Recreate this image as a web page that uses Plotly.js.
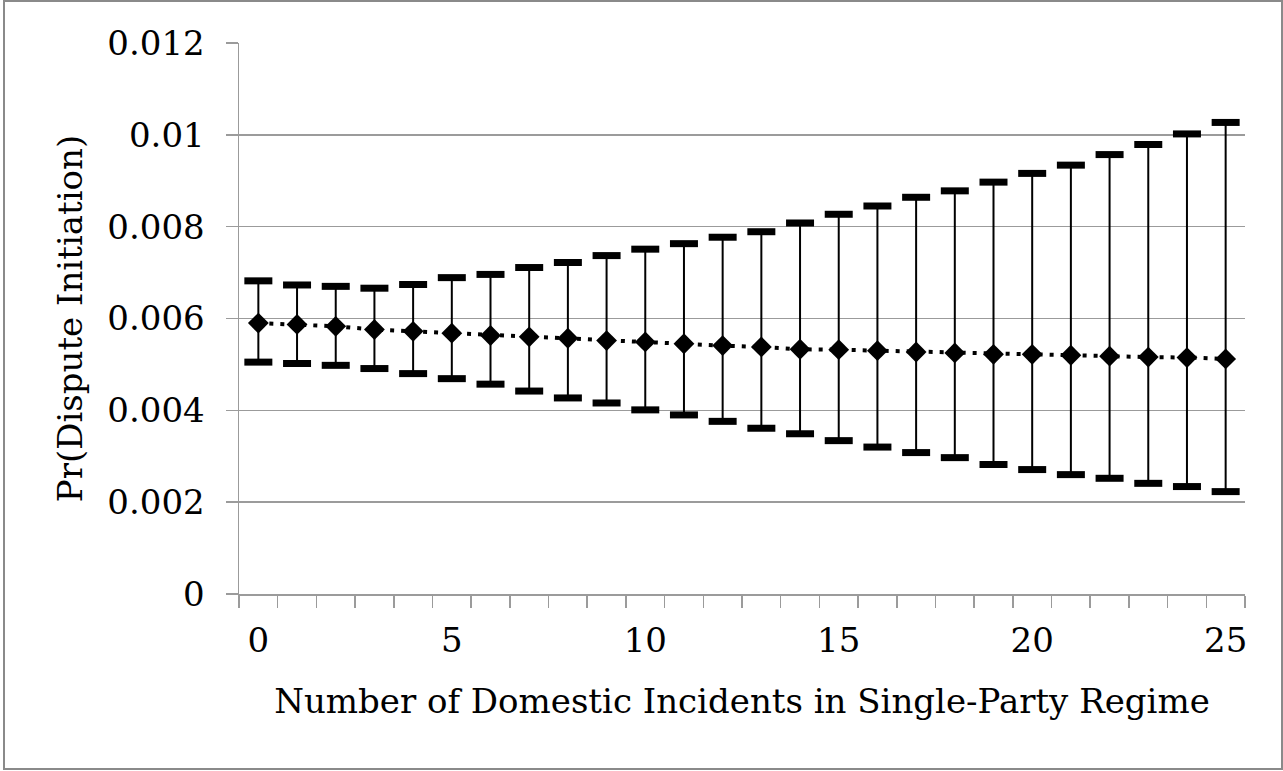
<!DOCTYPE html>
<html>
<head>
<meta charset="utf-8">
<script src="https://cdn.plot.ly/plotly-3.0.1.min.js"></script>
<style>
  html, body { margin: 0; padding: 0; background: #fff; }
  #chart { position: absolute; left: 0; top: 0; width: 1283px; height: 771px; }
  #frame { position: absolute; left: 3px; top: 0; width: 1276px; height: 766px;
           border: 2px solid #8a8a8a; pointer-events: none; }
</style>
</head>
<body>
<div id="chart"></div>
<div id="frame"></div>
<script>
// Number of domestic incidents (category positions)
const incidents = [0,1,2,3,4,5,6,7,8,9,10,11,12,13,14,15,16,17,18,19,20,21,22,23,24,25];

// Predicted probability of dispute initiation
const prMean = [0.00590, 0.00587, 0.00583, 0.00576, 0.00572, 0.00568, 0.00563, 0.00560, 0.00557, 0.00552,
                0.00549, 0.00545, 0.00541, 0.00538, 0.00533, 0.00532, 0.00530, 0.00527, 0.00525, 0.00522,
                0.00522, 0.00520, 0.00518, 0.00516, 0.00515, 0.00512];

// Upper and lower confidence bounds
const prUpper = [0.00682, 0.00673, 0.00670, 0.00666, 0.00674, 0.00689, 0.00696, 0.00711, 0.00722, 0.00737,
                 0.00751, 0.00763, 0.00777, 0.00789, 0.00808, 0.00827, 0.00845, 0.00864, 0.00878, 0.00897,
                 0.00916, 0.00934, 0.00957, 0.00979, 0.01002, 0.01027];
const prLower = [0.00505, 0.00502, 0.00498, 0.00491, 0.00480, 0.00469, 0.00457, 0.00442, 0.00427, 0.00416,
                 0.00401, 0.00390, 0.00376, 0.00361, 0.00349, 0.00334, 0.00320, 0.00308, 0.00297, 0.00282,
                 0.00271, 0.00260, 0.00252, 0.00241, 0.00234, 0.00223];

// Axis labels
const xTickVals = [0, 5, 10, 15, 20, 25];
const xTickText = ['0', '5', '10', '15', '20', '25'];
const yTickVals = [0, 0.002, 0.004, 0.006, 0.008, 0.01, 0.012];
const yTickText = ['0', '0.002', '0.004', '0.006', '0.008', '0.01', '0.012'];

const errPlus = prUpper.map((u, i) => u - prMean[i]);
const errMinus = prMean.map((m, i) => m - prLower[i]);

const FONT = 'DejaVu Serif';
const FS = 34;
const GRID = '#9b9b9b';

// Interval whiskers + point estimates joined by a dotted line
const meanTrace = {
  x: incidents,
  y: prMean,
  type: 'scatter',
  mode: 'lines+markers',
  line: { color: '#000', width: 4, dash: '4px,7px' },
  marker: { symbol: 'diamond', size: 16, color: '#000' },
  error_y: {
    type: 'data', symmetric: false,
    array: errPlus, arrayminus: errMinus,
    color: '#000', thickness: 2, width: 0
  },
  hoverinfo: 'x+y'
};

// Thick caps at each end of the intervals
const capTrace = {
  x: incidents.concat(incidents),
  y: prUpper.concat(prLower),
  type: 'scatter',
  mode: 'markers',
  marker: { symbol: 'line-ew', size: 20, line: { color: '#000', width: 7 } },
  hoverinfo: 'y'
};

const layout = {
  width: 1283,
  height: 771,
  margin: { l: 239, r: 38, t: 43, b: 177, pad: 0 },
  paper_bgcolor: '#fff',
  plot_bgcolor: '#fff',
  showlegend: false,
  font: { family: FONT, size: FS, color: '#000' },
  xaxis: {
    range: [-0.5, 25.5],
    tickmode: 'array',
    tickvals: xTickVals,
    ticktext: xTickText,
    ticks: '',
    ticklabelstandoff: 16,
    showgrid: false,
    zeroline: false,
    showline: true,
    linecolor: GRID,
    linewidth: 1.5,
    minor: { tickmode: 'linear', tick0: -0.5, dtick: 1, ticks: 'outside', ticklen: 12, tickwidth: 1.5, tickcolor: GRID, showgrid: false },
    tickfont: { family: FONT, size: FS, color: '#000' },
    title: { text: 'Number of Domestic Incidents in Single-Party Regime', font: { family: FONT, size: FS, color: '#000' }, standoff: 30 },
    fixedrange: true
  },
  yaxis: {
    range: [0, 0.012],
    tickmode: 'array',
    tickvals: yTickVals,
    ticktext: yTickText,
    ticks: 'outside',
    ticklen: 12,
    tickwidth: 1.5,
    tickcolor: GRID,
    ticklabelstandoff: 14,
    showgrid: true,
    gridcolor: GRID,
    gridwidth: 1.5,
    zeroline: false,
    showline: true,
    linecolor: GRID,
    linewidth: 1.5,
    tickfont: { family: FONT, size: FS, color: '#000' },
    title: { text: 'Pr(Dispute Initiation)', font: { family: FONT, size: FS, color: '#000' }, standoff: 14 },
    fixedrange: true
  }
};

Plotly.newPlot('chart', [meanTrace, capTrace], layout, { staticPlot: true, displayModeBar: false });
</script>
</body>
</html>
